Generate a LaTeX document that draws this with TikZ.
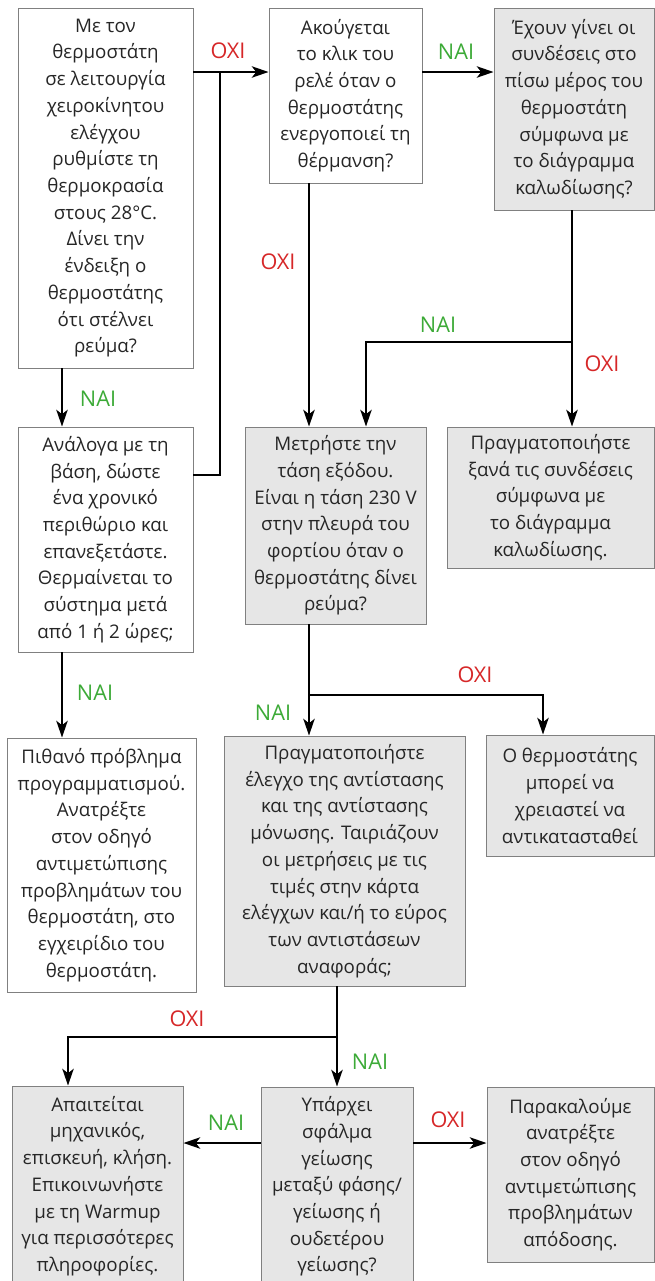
\documentclass[tikz,border=0pt]{standalone}
\usepackage{fontspec}
\setmainfont{Open Sans}
\usetikzlibrary{arrows.meta}
\definecolor{oxired}{RGB}{214,39,40}
\definecolor{naigreen}{RGB}{60,170,55}
\definecolor{boxgray}{RGB}{230,230,230}
\definecolor{edgegray}{RGB}{128,128,128}
\begin{document}
\begin{tikzpicture}[x=0.03cm,y=-0.03cm,
 every node/.style={font=\fontsize{16}{22.8}\selectfont,text=black!85},
 box/.style={draw=edgegray,line width=0.8pt,fill=white,align=center,inner sep=0pt},
 greybox/.style={box,fill=boxgray},
 flow/.style={line width=2pt,-{Stealth[length=5mm,width=3.4mm,inset=1.3mm]}},
 lblnai/.style={text=naigreen,font=\fontsize{18.5}{22}\selectfont},
 lbloxi/.style={text=oxired,font=\fontsize{18.5}{22}\selectfont}]
\useasboundingbox (0,0) rectangle (655,1281);
% boxes
\node[box,minimum width=5.25cm,minimum height=10.8cm] (A) at (105.5,188) {Με τον\\θερμοστάτη\\σε λειτουργία\\χειροκίνητου\\ελέγχου\\ρυθμίστε τη\\θερμοκρασία\\στους 28°C.\\Δίνει την\\ένδειξη ο\\θερμοστάτης\\ότι στέλνει\\ρεύμα?};
\node[box,minimum width=4.59cm,minimum height=5.25cm] (B) at (345.5,95.5) {Ακούγεται\\το κλικ του\\ρελέ όταν ο\\θερμοστάτης\\ενεργοποιεί τη\\θέρμανση?};
\node[greybox,minimum width=4.8cm,minimum height=6.06cm] (C) at (574,109) {Έχουν γίνει οι\\συνδέσεις στο\\πίσω μέρος του\\θερμοστάτη\\σύμφωνα με\\το διάγραμμα\\καλωδίωσης?};
\node[box,minimum width=5.25cm,minimum height=6.75cm] (D) at (105.5,539.5) {Ανάλογα με τη\\βάση, δώστε\\ένα χρονικό\\περιθώριο και\\επανεξετάστε.\\Θερμαίνεται το\\σύστημα μετά\\από 1 ή 2 ώρες;};
\node[greybox,minimum width=5.43cm,minimum height=5.91cm] (E) at (335.5,525.5) {Μετρήστε την\\τάση εξόδου.\\Είναι η τάση 230 V\\στην πλευρά του\\φορτίου όταν ο\\θερμοστάτης δίνει\\ρεύμα?};
\node[greybox,minimum width=6.21cm,minimum height=4.23cm] (F) at (550.5,497.5) {Πραγματοποιήστε\\ξανά τις συνδέσεις\\σύμφωνα με\\το διάγραμμα\\καλωδίωσης.};
\node[greybox,minimum width=7.23cm,minimum height=7.5cm] (G) at (344.5,861) {Πραγματοποιήστε\\έλεγχο της αντίστασης\\και της αντίστασης\\μόνωσης. Ταιριάζουν\\οι μετρήσεις με τις\\τιμές στην κάρτα\\ελέγχων και/ή το εύρος\\των αντιστάσεων\\αναφοράς;};
\node[greybox,minimum width=5.04cm,minimum height=3.63cm] (H) at (570,795.5) {Ο θερμοστάτης\\μπορεί να\\χρειαστεί να\\αντικατασταθεί};
\node[box,minimum width=5.67cm,minimum height=7.62cm] (I) at (101.5,865) {Πιθανό πρόβλημα\\προγραμματισμού.\\Ανατρέξτε\\στον οδηγό\\αντιμετώπισης\\προβλημάτων του\\θερμοστάτη, στο\\εγχειρίδιο του\\θερμοστάτη.};
\node[greybox,minimum width=5.13cm,minimum height=6cm] (K) at (97.5,1186) {Απαιτείται\\μηχανικός,\\επισκευή, κλήση.\\Επικοινωνήστε\\με τη Warmup\\για περισσότερες\\πληροφορίες.};
\node[greybox,minimum width=4.56cm,minimum height=5.97cm] (J) at (337,1186.5) {Υπάρχει\\σφάλμα\\γείωσης\\μεταξύ φάσης/\\γείωσης ή\\ουδετέρου\\γείωσης?};
\node[greybox,minimum width=5.01cm,minimum height=5.25cm] (L) at (570.5,1174.5) {Παρακαλούμε\\ανατρέξτε\\στον οδηγό\\αντιμετώπισης\\προβλημάτων\\απόδοσης.};
% junctions
\coordinate (j1) at (220,72); \coordinate (j2) at (220,475);
\coordinate (c1) at (309,0); \coordinate (c2) at (572,342); \coordinate (c3) at (366,0);
\coordinate (c4) at (309,695); \coordinate (c5) at (543,0); \coordinate (c6) at (62,0);
\coordinate (c7) at (337,1037); \coordinate (c8) at (68,0); \coordinate (c9) at (0,1143);
% connectors
\draw[flow] (A.east |- j1) -- (B.west |- j1);
\draw[line width=2pt] (D.east |- j2) -- (j2) -- (j1);
\draw[flow] (B.east |- j1) -- (C.west |- j1);
\draw[flow] (A.south -| c6) -- (D.north -| c6);
\draw[flow] (D.south -| c6) -- (I.north -| c6);
\draw[flow] (B.south -| c1) -- (E.north -| c1);
\draw[flow] (C.south -| c2) -- (F.north -| c2);
\draw[flow] (c2) -| (E.north -| c3);
\draw[flow] (E.south -| c1) -- (G.north -| c1);
\draw[flow] (c4) -| (H.north -| c5);
\draw[flow] (G.south -| c7) -- (J.north -| c7);
\draw[flow] (c7) -| (K.north -| c8);
\draw[flow] (J.west |- c9) -- (K.east |- c9);
\draw[flow] (J.east |- c9) -- (L.west |- c9);
% labels
\node[lbloxi] (o1) at (228,51) {OXI};
\node[lblnai] (n1) at (456,52) {NAI};
\node[lbloxi] (o2) at (278,262) {OXI};
\node[lblnai] (n2) at (98,399) {NAI};
\node[lblnai] (n3) at (438,325) {NAI};
\node[lbloxi] (o3) at (602,364) {OXI};
\node[lblnai] (n4) at (95,693) {NAI};
\node[lbloxi] (o4) at (475,675) {OXI};
\node[lblnai] (n5) at (273,713) {NAI};
\node[lbloxi] (o5) at (187,1019) {OXI};
\node[lblnai] (n6) at (370,1062) {NAI};
\node[lblnai] (n7) at (226,1123) {NAI};
\node[lbloxi] (o6) at (448,1120) {OXI};
\end{tikzpicture}
\end{document}
